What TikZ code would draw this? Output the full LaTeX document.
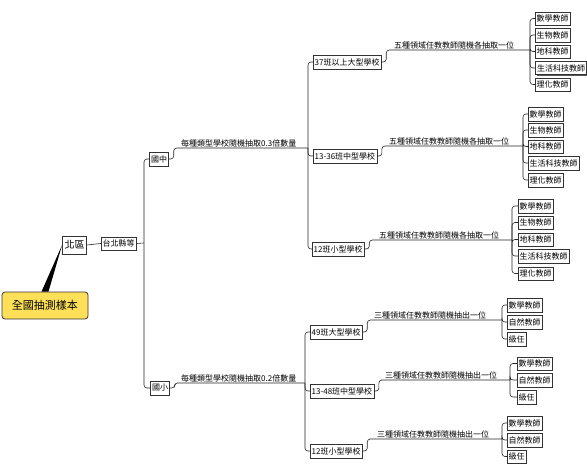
\documentclass[tikz,border=0pt]{standalone}
\usepackage{fontspec}
\newfontfamily\cjk{Noto Sans CJK TC}
\usetikzlibrary{shadows}

\begin{document}
\begin{tikzpicture}[
  x=1pt, y=-1pt,
  font=\cjk\fontsize{8}{9}\selectfont,
  root/.style={rectangle, rounded corners=3pt, draw=black!80, line width=0.8pt,
               fill=yellow!70!orange!65, font=\cjk\fontsize{11}{13}\selectfont,
               minimum width=86pt, minimum height=27pt},
  area/.style={rectangle, draw=black!80, line width=0.8pt, inner sep=2pt,
               font=\cjk\fontsize{10}{12}\selectfont, minimum height=18pt},
  topic/.style={rectangle, draw=black!80, fill=white, inner sep=1.5pt,
                minimum height=13.5pt},
  leaf/.style={topic, anchor=west, drop shadow={shadow xshift=1.2pt,
               shadow yshift=-1.2pt, fill=black!65, opacity=1}},
  school/.style={topic, anchor=west},
  lbl/.style={anchor=south west, inner sep=1pt},
  edge/.style={draw=black!85, line width=0.6pt, rounded corners=3pt},
]
\useasboundingbox (0,0) rectangle (587,472);

\node[root] (root) at (45,305.5) {全國抽測樣本};
\node[area] (bei)  at (74.5,245) {北區};
\node[topic] (tp)  at (118.5,243.5) {台北縣等};
\node[topic] (jh)  at (159,159) {國中};
\node[topic] (es)  at (160,388) {國小};

\node[lbl] (ljh) at (180,148) {每種類型學校隨機抽取0.3倍數量};
\node[lbl] (les) at (180,383) {每種類型學校隨機抽取0.2倍數量};

\node[school] (s1) at (313,62)  {37班以上大型學校};
\node[school] (s2) at (313,156) {13-36班中型學校};
\node[school] (s3) at (312,249) {12班小型學校};
\node[school] (s4) at (310,332) {49班大型學校};
\node[school] (s5) at (310,391) {13-48班中型學校};
\node[school] (s6) at (310,451) {12班小型學校};

\node[lbl] (l1) at (393,50)  {五種領域任教教師隨機各抽取一位};
\node[lbl] (l2) at (388,146) {五種領域任教教師隨機各抽取一位};
\node[lbl] (l3) at (378,240) {五種領域任教教師隨機各抽取一位};
\node[lbl] (l4) at (373,320) {三種領域任教教師隨機抽出一位};
\node[lbl] (l5) at (384,380) {三種領域任教教師隨機抽出一位};
\node[lbl] (l6) at (376,439) {三種領域任教教師隨機抽出一位};

\node[leaf] (ja1) at (535,18.5) {數學教師};
\node[leaf] (ja2) at (535,35)   {生物教師};
\node[leaf] (ja3) at (535,51.5) {地科教師};
\node[leaf, line width=1.1pt] (ja4) at (535,68) {生活科技教師};
\node[leaf] (ja5) at (535,84.5) {理化教師};

\node[leaf] (jb1) at (528,114)   {數學教師};
\node[leaf] (jb2) at (528,130)   {生物教師};
\node[leaf] (jb3) at (528,146.5) {地科教師};
\node[leaf] (jb4) at (528,163)   {生活科技教師};
\node[leaf] (jb5) at (528,180)   {理化教師};

\node[leaf] (jc1) at (518,206)   {數學教師};
\node[leaf] (jc2) at (518,222.5) {生物教師};
\node[leaf] (jc3) at (518,239.5) {地科教師};
\node[leaf] (jc4) at (518,256)   {生活科技教師};
\node[leaf] (jc5) at (518,273.5) {理化教師};

\node[leaf] (ea1) at (507,305) {數學教師};
\node[leaf] (ea2) at (507,322) {自然教師};
\node[leaf] (ea3) at (507,339) {級任};

\node[leaf] (eb1) at (517,363.5) {數學教師};
\node[leaf] (eb2) at (517,380)   {自然教師};
\node[leaf] (eb3) at (517,397)   {級任};

\node[leaf] (ec1) at (507,423)   {數學教師};
\node[leaf] (ec2) at (507,440)   {自然教師};
\node[leaf] (ec3) at (507,456.5) {級任};

\coordinate (t0) at (144,243);
\coordinate (t1) at (308,148);
\coordinate (t2) at (305,383);
\coordinate (b1) at (530,50);
\coordinate (b2) at (523,146);
\coordinate (b3) at (512,240);
\coordinate (b4) at (502,320);
\coordinate (b5) at (510,380);
\coordinate (b6) at (502,439);

\fill[black] ([xshift=-3.5pt]root.north) -- (bei.west)
  -- ([xshift=3.5pt]root.north) -- cycle;
\draw[edge] (bei.east) -- (tp.west);
\draw[edge] (tp.east) -- (t0);
\draw[edge] (jh.west) -| (t0) |- (es.west);

\draw[edge] (jh.east) -- ++(5,0) |- (ljh.south west) -- (t1);
\draw[edge] (s1.west) -| (t1) |- (s3.west);
\draw[edge] (t1) |- (s2.west);
\draw[edge] (es.east) -- ++(5,0) |- (les.south west) -- (t2);
\draw[edge] (s4.west) -| (t2) |- (s6.west);
\draw[edge] (t2) |- (s5.west);

\draw[edge] (s1.east) -- ++(5,0) |- (l1.south west) -- (b1);
\draw[edge] (s2.east) -- ++(5,0) |- (l2.south west) -- (b2);
\draw[edge] (s3.east) -- ++(5,0) |- (l3.south west) -- (b3);
\draw[edge] (s4.east) -- ++(5,0) |- (l4.south west) -- (b4);
\draw[edge] (s5.east) -- ++(5,0) |- (l5.south west) -- (b5);
\draw[edge] (s6.east) -- ++(5,0) |- (l6.south west) -- (b6);

\draw[edge] (ja1.west) -| (b1) |- (ja5.west);
\draw[edge] (b1) |- (ja2.west) (b1) |- (ja3.west) (b1) |- (ja4.west);
\draw[edge] (jb1.west) -| (b2) |- (jb5.west);
\draw[edge] (b2) |- (jb2.west) (b2) |- (jb3.west) (b2) |- (jb4.west);
\draw[edge] (jc1.west) -| (b3) |- (jc5.west);
\draw[edge] (b3) |- (jc2.west) (b3) |- (jc3.west) (b3) |- (jc4.west);
\draw[edge] (ea1.west) -| (b4) |- (ea3.west);
\draw[edge] (b4) |- (ea2.west);
\draw[edge] (eb1.west) -| (b5) |- (eb3.west);
\draw[edge] (b5) |- (eb2.west);
\draw[edge] (ec1.west) -| (b6) |- (ec3.west);
\draw[edge] (b6) |- (ec2.west);
\end{tikzpicture}
\end{document}
